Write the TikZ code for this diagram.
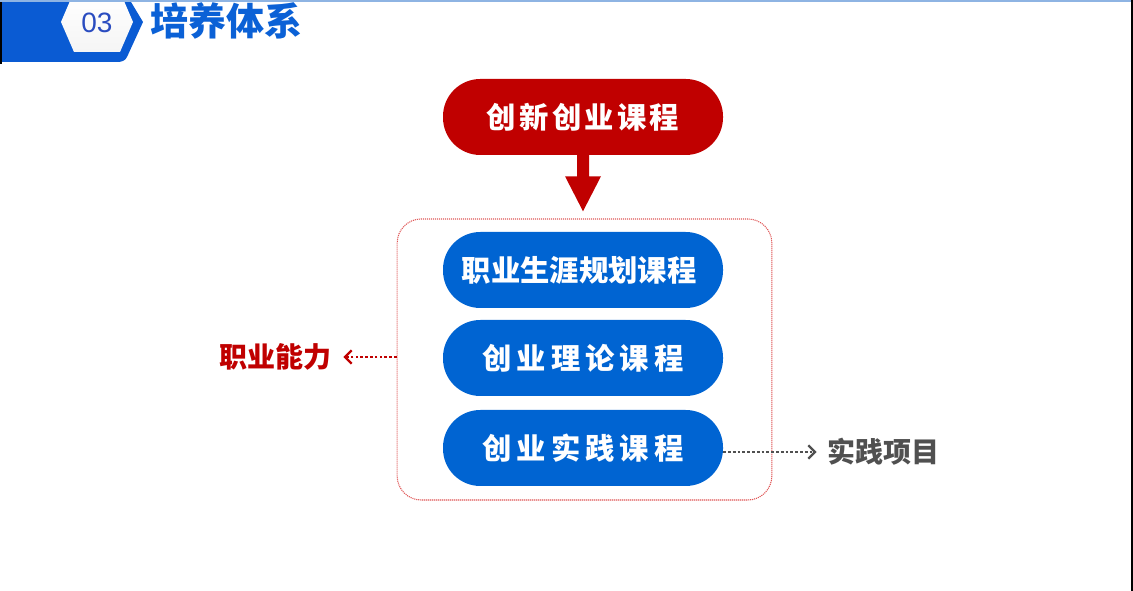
\documentclass[tikz,border=0pt]{standalone}
\usepackage{fontspec}
\newfontfamily\cjk{Noto Sans CJK SC}
\newfontfamily\numfont{Liberation Sans}
\usetikzlibrary{arrows.meta,calc}
\definecolor{cred}{HTML}{C00000}
\definecolor{cblue}{HTML}{0064D2}
\definecolor{tblue}{HTML}{0B61D6}
\definecolor{bandblue}{HTML}{0A5BD3}
\definecolor{numblue}{HTML}{2A4CC0}
\definecolor{boxred}{HTML}{E05555}
\definecolor{cgray}{HTML}{505050}
\definecolor{topline}{HTML}{8EB4E3}
\begin{document}
\begin{tikzpicture}[x=0.75pt,y=-0.75pt,
  pill/.style={rounded corners=28pt, minimum width=210pt, minimum height=57pt,
    inner sep=0pt, text=white, font={\cjk\bfseries\fontsize{22}{26}\selectfont}},
  redpill/.style={pill, fill=cred},
  bluepill/.style={pill, fill=cblue},
  dotbox/.style={draw=boxred, line width=0.8pt, dash pattern=on 0.8pt off 0.7pt,
    rounded corners=18pt, minimum width=281pt, minimum height=210.75pt, inner sep=0pt},
  side/.style={font={\cjk\bfseries\fontsize{21}{25}\selectfont}, inner sep=0pt},
  dotarrow/.style={line width=2.2pt, dash pattern=on 2pt off 1.6pt,
    -{Straight Barb[length=5pt,width=10pt,line width=1.8pt]}}
]
\useasboundingbox (0,0) rectangle (1133,591);
\fill[white] (0,0) rectangle (1133,591);
\begin{scope}
\clip (0,0) rectangle (1133,591);
% header band
\fill[bandblue] (0,2) -- (131,2) -- (143,22) -- (127,57) to[out=-115,in=0] (117,62) -- (0,62) -- cycle;
\fill[black] (0,2) rectangle (2,64);
% hexagon
\shade[top color=white, bottom color=gray!8] (61,22) -- (73,-6) -- (121,-6) -- (133,22) -- (120,52) -- (74,52) -- cycle;
\fill[topline] (0,0) rectangle (1133,2);
\fill[black] (1131,0) rectangle (1133,591);
\end{scope}
\node[text=numblue, font={\numfont\fontsize{21}{24}\selectfont}, inner sep=0pt] (num) at (97,23) {03};
\node[text=tblue, font={\cjk\bfseries\fontsize{28.5}{31}\selectfont}, inner sep=0pt] (title) at (226,21) {培养体系};

% main flow
\node[redpill] (red) at (583,117) {\addfontfeature{LetterSpace=11}创新创业课程};
\node[dotbox] (box) at (584.5,359.5) {};
\node[bluepill] (p1) at (583,270) {\hspace*{-6pt}职业生涯规划课程};
\node[bluepill] (p2) at (583,358) {\addfontfeature{LetterSpace=17}创业理论课程};
\node[bluepill] (p3) at (583,448) {\addfontfeature{LetterSpace=17}创业实践课程};

% block arrow
\fill[cred] ($(red.south)+(-6,-1)$) -- ($(red.south)+(6,-1)$) -- ($(red.south)+(6,21)$)
  -- ($(red.south)+(18,21)$) -- ($(red.south)+(0,56)$) -- ($(red.south)+(-18,21)$)
  -- ($(red.south)+(-6,21)$) -- cycle;

% side labels
\node[side, text=cred] (ability) at (275,357) {职业能力};
\node[side, text=cgray] (project) at (883,452) {实践项目};
\draw[dotarrow, draw=cred] (box.west |- ability) -- ($(ability.east)+(12,0)$);
\draw[dotarrow, draw=cgray] (p3.east |- project) -- ($(project.west)+(-10,0)$);
\end{tikzpicture}
\end{document}
